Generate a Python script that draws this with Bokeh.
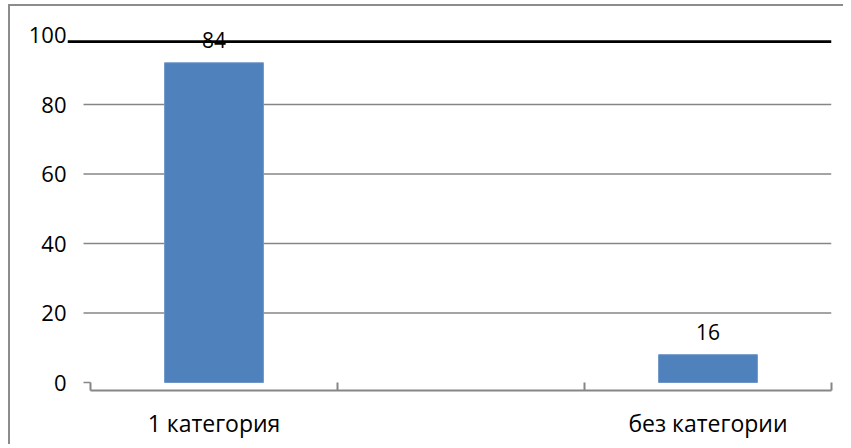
from bokeh.plotting import figure
from bokeh.models import Range1d, FixedTicker, ColumnDataSource
from bokeh.embed import file_html
from bokeh.resources import INLINE
from bokeh.core.properties import value

# ---- data ----
categories = ["1 категория", "", "без категории"]
bar_values = [92, 0, 8]          # drawn bar heights
bar_labels = ["84", "", "16"]    # printed data labels
y_ticks = [0, 20, 40, 60, 80, 100]
grid_levels = [20, 40, 60, 80]
top_line_level = 98.1

FONT = "Open Sans"
GRID = "#868686"

# ---- layout (screen pixels) ----
OX, OY = 10, 6                    # canvas origin on the page (margin + border)
W, H = 835, 440
unit_px = (831 - 90) / 3.0
px_per_val = 3.475
x_start = -(90 - 67) / unit_px
x_end = float(len(categories))
y_start = -(390 - 382) / px_per_val
y_end = (382 - 20) / px_per_val
grid_x0 = -(90 - 83) / unit_px

frame_w = 831 - 67
frame_h = 390 - 20
mb_left = 67 - OX
mb_top = 20 - OY

p = figure(width=W, height=H, output_backend="svg", toolbar_location=None,
           x_range=Range1d(x_start, x_end), y_range=Range1d(y_start, y_end),
           min_border_left=mb_left, min_border_right=W - mb_left - frame_w,
           min_border_top=mb_top, min_border_bottom=H - mb_top - frame_h,
           title=None)
p.outline_line_color = None
p.background_fill_color = "white"
p.border_fill_color = "white"
p.xgrid.visible = False
p.ygrid.visible = False
p.styles = {"margin-left": "8px", "margin-top": "4px",
            "border-left": "2px solid #8c8c8c", "border-top": "2px solid #8c8c8c"}

# grid lines
p.segment(x0=[grid_x0] * len(grid_levels), y0=grid_levels,
          x1=[x_end] * len(grid_levels), y1=grid_levels,
          line_color=GRID, line_width=1.6)
# small stub at zero
p.segment(x0=[grid_x0], y0=[0], x1=[0], y1=[0], line_color=GRID, line_width=1.6)
# black top line
p.segment(x0=[x_start], y0=[top_line_level], x1=[x_end], y1=[top_line_level],
          line_color="black", line_width=2.6)

# bars
idx = [i for i, v in enumerate(bar_values) if v > 0]
src = ColumnDataSource(dict(
    x=[i + 0.5 for i in idx],
    top=[bar_values[i] for i in idx],
    label=[bar_labels[i] for i in idx],
))
p.vbar(x="x", top="top", bottom=0, width=0.4, source=src,
       fill_color="#4F81BD", line_color="#6d95c6", line_width=1)
p.text(x="x", y="top", text="label", source=src, y_offset=-23,
       text_align="center", text_baseline="middle",
       text_font=value(FONT), text_font_size="21px", text_color="black")

# y axis
ya = p.yaxis[0]
ya.ticker = FixedTicker(ticks=y_ticks, minor_ticks=[])
ya.axis_line_color = None
ya.major_tick_line_color = None
ya.minor_tick_line_color = None
ya.major_tick_out = 0
ya.major_label_standoff = 1
ya.major_label_text_font = FONT
ya.major_label_text_font_size = "22px"
ya.major_label_text_color = "black"

# x axis
xa = p.xaxis[0]
tick_pos = [i + 0.5 for i in range(len(categories))]
xa.ticker = FixedTicker(ticks=tick_pos, minor_ticks=list(range(len(categories) + 1)))
xa.major_label_overrides = {t: c for t, c in zip(tick_pos, categories)}
xa.bounds = (0, x_end)
xa.axis_line_color = GRID
xa.axis_line_width = 2
xa.major_tick_line_color = None
xa.minor_tick_in = 8
xa.minor_tick_out = 0
xa.minor_tick_line_color = GRID
xa.minor_tick_line_width = 2
xa.major_label_standoff = 10
xa.major_label_text_font = FONT
xa.major_label_text_font_size = "23px"
xa.major_label_text_color = "black"

open("out.html", "w").write(file_html(p, INLINE))
